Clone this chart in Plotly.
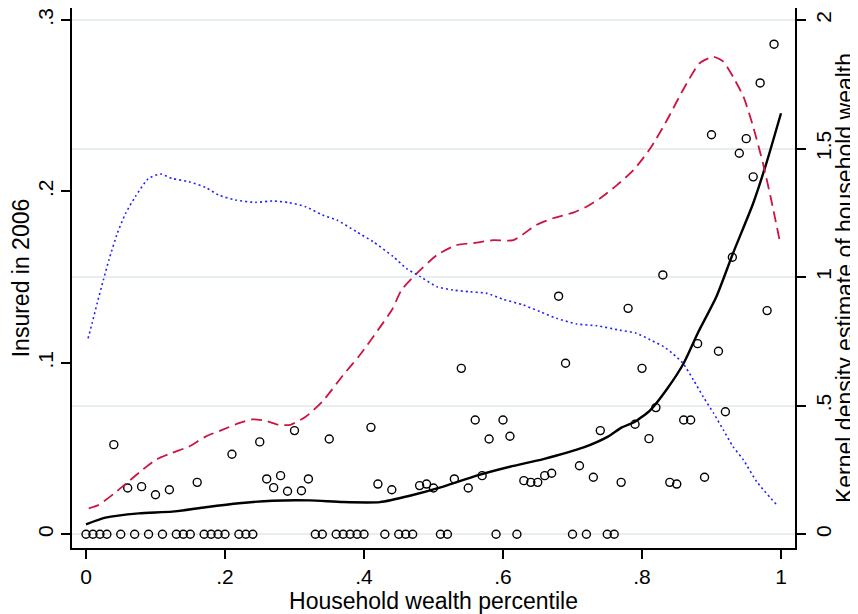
import plotly.graph_objects as go

# --- data ---------------------------------------------------------------

pct = [
    0.00, 0.01, 0.02, 0.03, 0.04, 0.05, 0.06, 0.07, 0.08, 0.09,
    0.10, 0.11, 0.12, 0.13, 0.14, 0.15, 0.16, 0.17, 0.18, 0.19,
    0.20, 0.21, 0.22, 0.23, 0.24, 0.25, 0.26, 0.27, 0.28, 0.29,
    0.30, 0.31, 0.32, 0.33, 0.34, 0.35, 0.36, 0.37, 0.38, 0.39,
    0.40, 0.41, 0.42, 0.43, 0.44, 0.45, 0.46, 0.47, 0.48, 0.49,
    0.50, 0.51, 0.52, 0.53, 0.54, 0.55, 0.56, 0.57, 0.58, 0.59,
    0.60, 0.61, 0.62, 0.63, 0.64, 0.65, 0.66, 0.67, 0.68, 0.69,
    0.70, 0.71, 0.72, 0.73, 0.74, 0.75, 0.76, 0.77, 0.78, 0.79,
    0.80, 0.81, 0.82, 0.83, 0.84, 0.85, 0.86, 0.87, 0.88, 0.89,
    0.90, 0.91, 0.92, 0.93, 0.94, 0.95, 0.96, 0.97, 0.98, 0.99,
]
insured = [
    0, 0, 0, 0, 0.0523, 0, 0.0270, 0, 0.0278, 0,
    0.0231, 0, 0.0260, 0, 0, 0, 0.0303, 0, 0, 0,
    0, 0.0467, 0, 0, 0, 0.0539, 0.0323, 0.0272, 0.0342, 0.0251,
    0.0605, 0.0254, 0.0323, 0, 0, 0.0556, 0, 0, 0, 0,
    0, 0.0624, 0.0293, 0, 0.0260, 0, 0, 0, 0.0284, 0.0293,
    0.0270, 0, 0, 0.0323, 0.0968, 0.0270, 0.0667, 0.0342, 0.0556, 0,
    0.0667, 0.0572, 0, 0.0313, 0.0303, 0.0303, 0.0342, 0.0356, 0.1389, 0.0998,
    0, 0.0400, 0, 0.0333, 0.0605, 0, 0, 0.0303, 0.1318, 0.0642,
    0.0968, 0.0558, 0.0739, 0.1513, 0.0303, 0.0293, 0.0667, 0.0667, 0.1112, 0.0333,
    0.2331, 0.1068, 0.0715, 0.1616, 0.2223, 0.2308, 0.2085, 0.2633, 0.1305, 0.2859,
]

# smoothed insurance rate (left axis)
fit_x = [0.0, 0.028, 0.076, 0.124, 0.172, 0.22, 0.268, 0.322, 0.37, 0.423,
         0.466, 0.514, 0.562, 0.61, 0.658, 0.716, 0.751, 0.771, 0.79, 0.812,
         0.836, 0.86, 0.881, 0.907, 0.931, 0.96, 0.979, 1.0]
fit_y = [0.0058, 0.0097, 0.0122, 0.0132, 0.0158, 0.0181, 0.0196, 0.0198, 0.0188, 0.0188,
         0.0225, 0.0278, 0.0342, 0.0394, 0.0439, 0.0507, 0.0570, 0.0624, 0.0657, 0.0725,
         0.0848, 0.0998, 0.1180, 0.1386, 0.1640, 0.1931, 0.2165, 0.2456]

# kernel density, red dashed (right axis)
kd_red_x = [0.004, 0.018, 0.042, 0.061, 0.081, 0.10, 0.124, 0.148, 0.172, 0.196,
            0.22, 0.239, 0.258, 0.277, 0.294, 0.316, 0.34, 0.37, 0.394, 0.42,
            0.44, 0.454, 0.476, 0.505, 0.533, 0.562, 0.586, 0.615, 0.648, 0.672,
            0.701, 0.72, 0.74, 0.764, 0.788, 0.812, 0.836, 0.859, 0.883, 0.903,
            0.917, 0.931, 0.946, 0.96, 0.974, 0.986, 0.998]
kd_red_y = [0.101, 0.114, 0.162, 0.205, 0.250, 0.289, 0.317, 0.341, 0.380, 0.406,
            0.432, 0.447, 0.442, 0.426, 0.426, 0.457, 0.516, 0.619, 0.697, 0.794,
            0.872, 0.950, 1.015, 1.086, 1.125, 1.134, 1.144, 1.144, 1.203, 1.229,
            1.251, 1.274, 1.307, 1.358, 1.417, 1.501, 1.611, 1.728, 1.832, 1.857,
            1.838, 1.779, 1.702, 1.585, 1.443, 1.300, 1.144]

# kernel density, blue dotted (right axis)
kd_blue_x = [0.003, 0.009, 0.016, 0.025, 0.033, 0.045, 0.057, 0.071, 0.09, 0.107,
             0.124, 0.148, 0.172, 0.191, 0.215, 0.244, 0.268, 0.292, 0.316, 0.34,
             0.361, 0.389, 0.413, 0.442, 0.461, 0.481, 0.505, 0.528, 0.553, 0.577,
             0.60, 0.629, 0.653, 0.677, 0.706, 0.735, 0.768, 0.792, 0.812, 0.831,
             0.845, 0.859, 0.874, 0.888, 0.903, 0.917, 0.931, 0.946, 0.965, 0.994]
kd_blue_y = [0.762, 0.823, 0.898, 0.989, 1.067, 1.170, 1.248, 1.313, 1.384, 1.401,
             1.384, 1.371, 1.349, 1.319, 1.300, 1.291, 1.296, 1.290, 1.274, 1.242,
             1.222, 1.177, 1.138, 1.080, 1.034, 1.002, 0.963, 0.950, 0.943, 0.937,
             0.914, 0.892, 0.866, 0.840, 0.818, 0.811, 0.794, 0.782, 0.756, 0.730,
             0.701, 0.665, 0.600, 0.535, 0.471, 0.406, 0.341, 0.289, 0.205, 0.114]

x_ticks = [0, 0.2, 0.4, 0.6, 0.8, 1]
x_ticktext = ["0", ".2", ".4", ".6", ".8", "1"]
y_ticks = [0, 0.1, 0.2, 0.3]
y_ticktext = ["0", ".1", ".2", ".3"]
y2_ticks = [0, 0.5, 1, 1.5, 2]
y2_ticktext = ["0", ".5", "1", "1.5", "2"]

FONT = "Arial, Liberation Sans, sans-serif"

fig = go.Figure()

fig.add_trace(go.Scatter(
    x=pct, y=insured, mode="markers",
    marker=dict(symbol="circle-open", size=8, color="black",
                line=dict(color="black", width=1.4)),
    showlegend=False,
))
fig.add_trace(go.Scatter(
    x=fit_x, y=fit_y, mode="lines",
    line=dict(color="black", width=2.4, shape="spline", smoothing=0.6),
    showlegend=False,
))
fig.add_trace(go.Scatter(
    x=kd_red_x, y=kd_red_y, mode="lines", yaxis="y2",
    line=dict(color="#CC1440", width=1.8, dash="11px,6px",
              shape="spline", smoothing=0.6),
    showlegend=False,
))
fig.add_trace(go.Scatter(
    x=kd_blue_x, y=kd_blue_y, mode="lines", yaxis="y2",
    line=dict(color="#2020FF", width=1.6, dash="2px,3px",
              shape="spline", smoothing=0.6),
    showlegend=False,
))

# the page body adds an 8px offset, so the figure is 8px smaller and the
# left axis 0..0.3 and right axis 0..2 share the same pixel scale
y_lo, y_hi = -0.00799, 0.30701
scale = 2 / 0.3

axis_common = dict(
    showline=True, linecolor="black", linewidth=1.5,
    ticks="outside", ticklen=9, tickwidth=1.5, tickcolor="black",
    zeroline=False, automargin=False,
    tickfont=dict(size=21),
)

fig.update_layout(
    width=850, height=606,
    margin=dict(l=64, r=63, t=0, b=66),
    paper_bgcolor="white", plot_bgcolor="white",
    font=dict(family=FONT, size=23, color="black"),
    xaxis=dict(
        range=[-0.02014, 1.02014], tickvals=x_ticks, ticktext=x_ticktext,
        showgrid=False,
        title=dict(text="Household wealth percentile", font=dict(size=23),
                   standoff=0),
        **axis_common,
    ),
    yaxis=dict(
        range=[y_lo, y_hi], tickvals=y_ticks, ticktext=y_ticktext,
        tickangle=-90, showgrid=False,
        title=dict(text="Insured in 2006", font=dict(size=23), standoff=6),
        **axis_common,
    ),
    yaxis2=dict(
        range=[y_lo * scale, y_hi * scale], tickvals=y2_ticks, ticktext=y2_ticktext,
        tickangle=-90, overlaying="y", side="right",
        showgrid=True, gridcolor="#E6EEF0", gridwidth=1.5,
        title=dict(text="Kernel density estimate of household wealth",
                   font=dict(size=23), standoff=0),
        **axis_common,
    ),
)

fig.write_html("out.html")
